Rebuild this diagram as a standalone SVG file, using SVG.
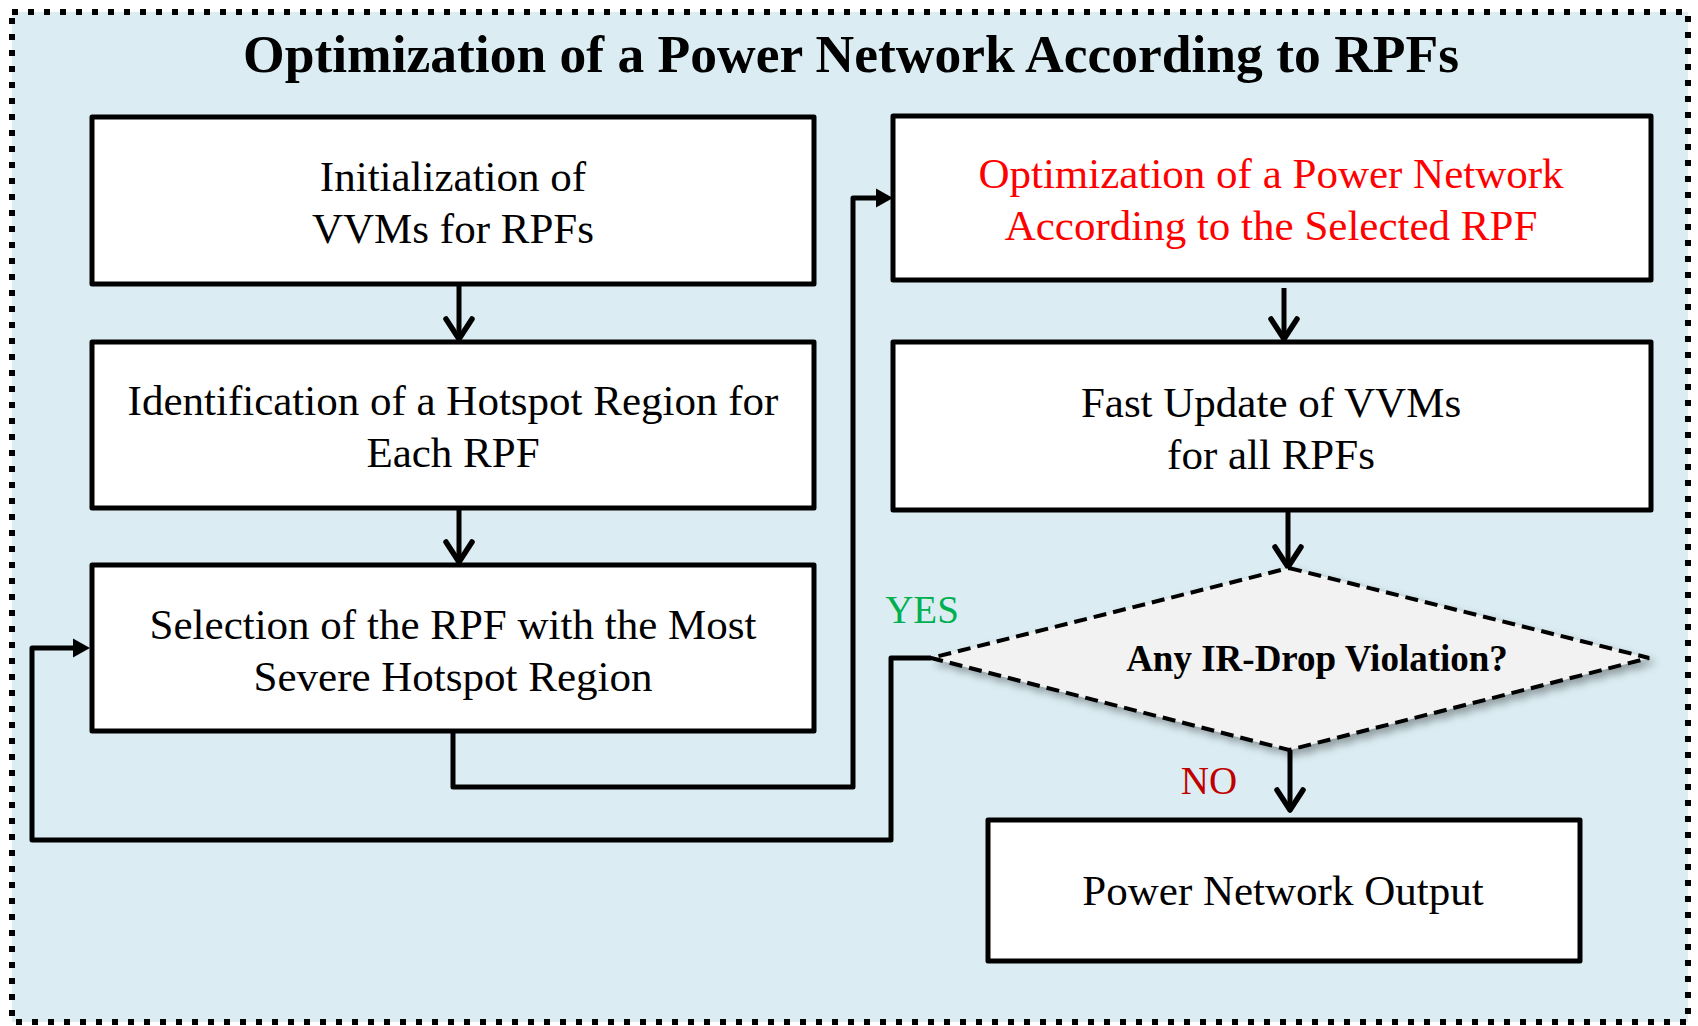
<svg xmlns="http://www.w3.org/2000/svg" width="1698" height="1026" viewBox="0 0 1698 1026">
<defs>
<style>
.bg{fill:#DBEDF3;stroke:#000;stroke-width:6;stroke-dasharray:6 10}
.box{fill:#fff;stroke:#000;stroke-width:5;stroke-linejoin:round}
.t{font-family:"Liberation Serif","Times New Roman",serif;font-size:43px;text-anchor:middle;fill:#000}
.red{fill:#FF0000}
.title{font-family:"Liberation Serif","Times New Roman",serif;font-size:53.5px;font-weight:bold;text-anchor:middle;fill:#000}
.dtext{font-family:"Liberation Serif","Times New Roman",serif;font-size:37px;font-weight:bold;text-anchor:middle;fill:#000}
.lbl{font-family:"Liberation Serif","Times New Roman",serif;font-size:39px;text-anchor:middle}
.conn{fill:none;stroke:#000;stroke-width:5;stroke-linejoin:round}
.diam{fill:#F2F2F2;stroke:#000;stroke-width:4;stroke-dasharray:13 7}
</style>
<marker id="tri" markerUnits="userSpaceOnUse" markerWidth="22" markerHeight="22" viewBox="0 -11 20 22" refX="0" refY="0" orient="auto">
<path d="M0,-9.5 L17,0 L0,9.5 Z" fill="#000"/>
</marker>
<marker id="chev" markerUnits="userSpaceOnUse" markerWidth="30" markerHeight="36" viewBox="-26 -18 30 36" refX="0" refY="0" orient="auto">
<path d="M-20,-13 L0,0 L-20,13" fill="none" stroke="#000" stroke-width="5.5" stroke-linecap="round" stroke-linejoin="round"/>
</marker>
<filter id="sh" x="-10%" y="-10%" width="130%" height="140%">
<feGaussianBlur in="SourceAlpha" stdDeviation="4"/>
<feOffset dx="5" dy="5" result="b"/>
<feComponentTransfer><feFuncA type="linear" slope="0.35"/></feComponentTransfer>
<feMerge><feMergeNode/><feMergeNode in="SourceGraphic"/></feMerge>
</filter>
</defs>
<rect class="bg" x="12" y="12" width="1676" height="1010"/>
<text class="title" x="851" y="72">Optimization of a Power Network According to RPFs</text>

<g id="connectors">
<path class="conn" d="M459,285 V339" marker-end="url(#chev)"/>
<path class="conn" d="M459,508 V562" marker-end="url(#chev)"/>
<path class="conn" d="M453,731 V787 H853 V198 H876" marker-end="url(#tri)"/>
<path class="conn" d="M1284,288 V339" marker-end="url(#chev)"/>
<path class="conn" d="M1288,510 V567" marker-end="url(#chev)"/>
<path class="conn" d="M1290,750 V810" marker-end="url(#chev)"/>
<path class="conn" d="M931,658 H891 V840 H32 V648 H73" marker-end="url(#tri)"/>
</g>

<g id="init">
<rect class="box" x="92" y="117" width="722" height="167"/>
<text class="t" x="453" y="191">Initialization of</text>
<text class="t" x="453" y="243">VVMs for RPFs</text>
</g>
<g id="identify">
<rect class="box" x="92" y="342" width="722" height="166"/>
<text class="t" x="453" y="415">Identification of a Hotspot Region for</text>
<text class="t" x="453" y="467">Each RPF</text>
</g>
<g id="select">
<rect class="box" x="92" y="565" width="722" height="166"/>
<text class="t" x="453" y="639">Selection of the RPF with the Most</text>
<text class="t" x="453" y="691">Severe Hotspot Region</text>
</g>
<g id="optimize">
<rect class="box" x="893" y="116" width="758" height="164"/>
<text class="t red" x="1271" y="188">Optimization of a Power Network</text>
<text class="t red" x="1271" y="240">According to the Selected RPF</text>
</g>
<g id="update">
<rect class="box" x="893" y="342" width="758" height="168"/>
<text class="t" x="1271" y="417">Fast Update of VVMs</text>
<text class="t" x="1271" y="469">for all RPFs</text>
</g>
<g id="decision">
<polygon class="diam" points="1289,568 1649,658 1289,750 931,658" filter="url(#sh)"/>
<text class="dtext" x="1317" y="671">Any IR-Drop Violation?</text>
</g>
<g id="output">
<rect class="box" x="988" y="820" width="592" height="141"/>
<text class="t" x="1283" y="905">Power Network Output</text>
</g>
<text class="lbl" x="922" y="623" fill="#00B050">YES</text>
<text class="lbl" x="1209" y="794" fill="#C00000">NO</text>
</svg>
